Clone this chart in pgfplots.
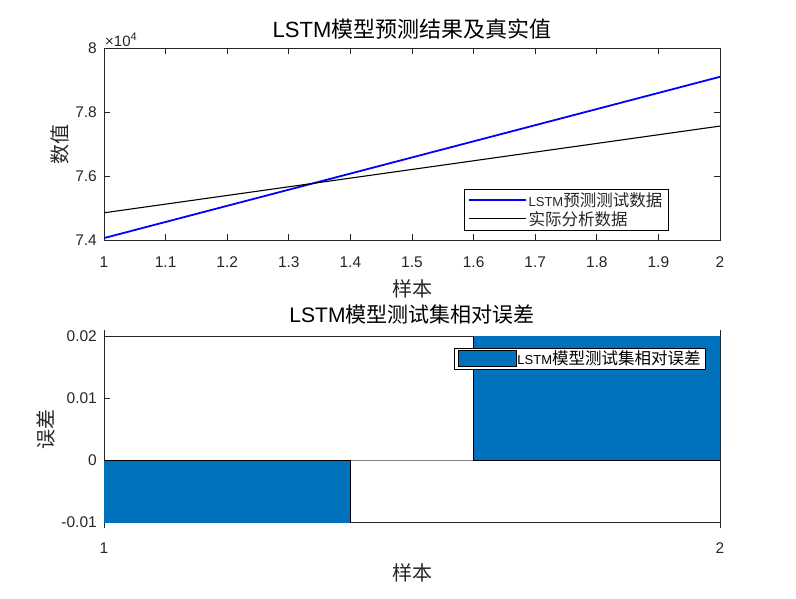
\documentclass[border=0pt]{standalone}
\usepackage{fontspec}
\setmainfont{Liberation Sans}
\newfontfamily\cjk{Noto Sans CJK SC}
\usepackage{pgfplots}
\pgfplotsset{compat=1.18}
\definecolor{mblue}{rgb}{0,0.447,0.741}
\definecolor{axgray}{rgb}{0.15,0.15,0.15}
\newcommand{\fs}[1]{\fontsize{#1}{#1}\selectfont}

\pgfplotsset{
  mstyle/.style={
    scale only axis, width=616pt,
    axis line style={axgray, line width=0.7pt},
    every tick/.style={axgray, line width=0.7pt},
    tick align=inside, major tick length=6pt,
    tick label style={font=\fs{15.5}, text=axgray},
    /pgf/number format/assume math mode=true,
    xticklabel style={anchor=base, inner sep=0pt},
    yticklabel style={anchor=east, inner sep=0pt, xshift=-7pt},
    title style={anchor=base, inner sep=0pt, font=\fs{22}, text=black},
    xlabel style={anchor=base, inner sep=0pt, font=\fs{20}, text=axgray},
    ylabel style={anchor=south, inner sep=0pt, font=\fs{20}, text=axgray},
    clip mode=individual,
  }
}

\begin{document}
\begin{tikzpicture}
\useasboundingbox (0pt,0pt) rectangle (796pt,-599pt);

% upper plot
\begin{axis}[mstyle,
    at={(104pt,-240pt)}, anchor=south west, height=192pt,
    xmin=1, xmax=2, ymin=74000, ymax=80000,
    xtick={1,1.1,1.2,1.3,1.4,1.5,1.6,1.7,1.8,1.9,2},
    ytick={74000,76000,78000,80000},
    yticklabels={7.4,7.6,7.8,8},
    scaled y ticks=false,
    xticklabel style={yshift=-27pt, /pgf/number format/fixed, /pgf/number format/precision=1},
    title={LSTM{\cjk 模型预测结果及真实值}},
    title style={at={(axis description cs:0.5,1.021)}},
    xlabel={\cjk 样本},
    xlabel style={at={(axis description cs:0.5,-0.292)}},
    ylabel={\cjk 数值},
    ylabel style={at={(axis description cs:-0.057,0.5)}},
    legend style={at={(0.9156,0.2656)}, anchor=north east, draw=black,
      inner xsep=4pt, inner ysep=2pt, font=\fs{13},
      nodes={inner sep=1.5pt}, row sep=0pt, text=axgray},
    legend cell align=left,
]
\addplot[blue, line width=1.8pt,
  legend image code/.code={\draw[blue, line width=1.8pt] (0pt,0pt) -- (57pt,0pt);}]
  coordinates {(1,74060) (2,79100)};
\addlegendentry{LSTM{\cjk\fs{16.5}预测测试数据}}
\addplot[black, line width=1.1pt,
  legend image code/.code={\draw[black, line width=1.1pt] (0pt,0pt) -- (57pt,0pt);}]
  coordinates {(1,74850) (2,77560)};
\addlegendentry{{\cjk\fs{16.5}实际分析数据}}
\node[anchor=south west, inner sep=0pt, xshift=1pt, yshift=1pt, text=axgray, font=\fs{15}]
  at (rel axis cs:0,1) {×10\raisebox{0.75ex}{\fs{11}4}};
\end{axis}

% lower plot
\begin{axis}[mstyle,
    at={(104pt,-522pt)}, anchor=south west, height=186pt,
    xmin=1, xmax=2, ymin=-0.01, ymax=0.02,
    xtick={1,2}, ytick={-0.01,0,0.01,0.02},
    xticklabel style={yshift=-25pt},
    scaled y ticks=false,
    yticklabel style={/pgf/number format/fixed, /pgf/number format/precision=2},
    ybar, bar width=0.8,
    title={LSTM{\cjk 模型测试集相对误差}},
    title style={at={(axis description cs:0.5,1.038)}, font=\fs{21}},
    xlabel={\cjk 样本},
    xlabel style={at={(axis description cs:0.5,-0.312)}},
    ylabel={\cjk 误差},
    ylabel style={at={(axis description cs:-0.0795,0.5)}},
    legend style={at={(0.977,0.935)}, anchor=north east, draw=black,
      inner xsep=4pt, inner ysep=1.5pt, font=\fs{13},
      nodes={inner sep=1pt}, text=black},
]
\draw[gray, line width=0.8pt] (axis cs:1,0) -- (axis cs:2,0);
\addplot[fill=mblue, draw=black, line width=0.5pt,
  legend image code/.code={\draw[fill=mblue, draw=black, line width=0.6pt] (0pt,-8pt) rectangle (58pt,8pt);}]
  coordinates {(1,-0.0102) (2,0.0204)};
\addlegendentry{LSTM{\cjk\fs{16.5}模型测试集相对误差}}
\end{axis}
\end{tikzpicture}
\end{document}
